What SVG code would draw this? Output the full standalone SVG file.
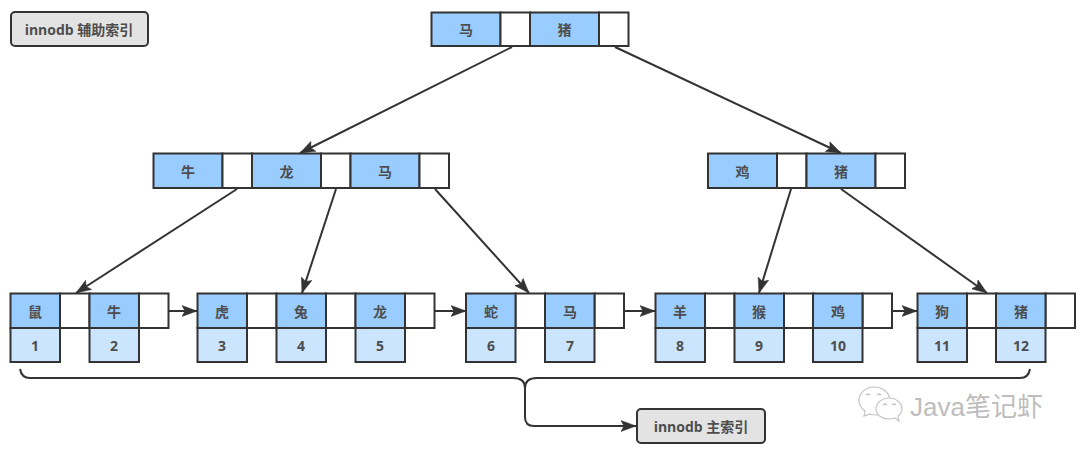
<svg xmlns="http://www.w3.org/2000/svg" width="1080" height="454" viewBox="0 0 1080 454">
<style>
text{font-family:"Open Sans","Noto Sans CJK SC",sans-serif;font-size:14px;font-weight:700;fill:#4d4d4d;text-anchor:middle;dominant-baseline:central}
.k{fill:#99ccff;stroke:#333;stroke-width:2}
.e{fill:#fff;stroke:#333;stroke-width:2}
.v{fill:#cce5ff;stroke:#333;stroke-width:2}
.l{fill:#e3e3e3;stroke:#333;stroke-width:2}
.c{fill:none;stroke:#333;stroke-width:2}
.a{marker-end:url(#arrow)}
.w{fill:#fff;stroke:#c4c4c4;stroke-width:1.200}
</style>
<defs>
<marker id="arrow" markerUnits="userSpaceOnUse" markerWidth="16" markerHeight="12" refX="15" refY="6" orient="auto"><path d="M0 0.5L15 6L0 11.500L3 6Z" fill="#333" stroke="#333" stroke-width="0.500"/></marker>
</defs>
<rect width="1080" height="454" fill="#fff"/>
<g id="connectors">
<path class="c a" d="M512 47L300 153"/>
<path class="c a" d="M615 47L841 153"/>
<path class="c a" d="M237 189L76 293"/>
<path class="c a" d="M336 189L302 293"/>
<path class="c a" d="M435 189L529 293"/>
<path class="c a" d="M791 189L759 293"/>
<path class="c a" d="M841 189L987 293"/>
<path class="c a" d="M169 311H197"/>
<path class="c a" d="M435 311H466"/>
<path class="c a" d="M624 311H655"/>
<path class="c a" d="M892 311H917"/>
<path class="c" d="M20 369C21 375 24 378 30 378H513C520 378 525 381 525 388C525 381 530 378 537 378H1020C1026 378 1029 375 1030 369"/>
<path class="c a" d="M525 386V417C525 423 528 426 534 426H636"/>
</g>
<g id="label-secondary"><rect class="l" x="11" y="12" width="137" height="34" rx="4"/><text x="79" y="29">innodb 辅助索引</text></g>
<g id="root"><rect class="k" x="431.500" y="12.500" width="69" height="33.500"/><rect class="e" x="500.500" y="12.500" width="29.500" height="33.500"/><rect class="k" x="530" y="12.500" width="69" height="33.500"/><rect class="e" x="599" y="12.500" width="29.500" height="33.500"/><text x="466" y="29">马</text><text x="564.500" y="29">猪</text></g>
<g id="mid-left"><rect class="k" x="153.500" y="153.500" width="69" height="34.500"/><rect class="e" x="222.500" y="153.500" width="29.500" height="34.500"/><rect class="k" x="252" y="153.500" width="69" height="34.500"/><rect class="e" x="321" y="153.500" width="29.500" height="34.500"/><rect class="k" x="350.500" y="153.500" width="69" height="34.500"/><rect class="e" x="419.500" y="153.500" width="29.500" height="34.500"/><text x="188" y="171">牛</text><text x="286.500" y="171">龙</text><text x="385" y="171">马</text></g>
<g id="mid-right"><rect class="k" x="708" y="153.500" width="69" height="34.500"/><rect class="e" x="777" y="153.500" width="29.500" height="34.500"/><rect class="k" x="806.500" y="153.500" width="69" height="34.500"/><rect class="e" x="875.500" y="153.500" width="29.500" height="34.500"/><text x="742.500" y="171">鸡</text><text x="841" y="171">猪</text></g>
<g id="leaf-1">
<rect class="e" x="60" y="293.500" width="29.500" height="34.500"/><rect class="k" x="10.500" y="293.500" width="49.500" height="34.500"/><rect class="v" x="10.500" y="328" width="49.500" height="34"/>
<rect class="e" x="139" y="293.500" width="29.500" height="34.500"/><rect class="k" x="89.500" y="293.500" width="49.500" height="34.500"/><rect class="v" x="89.500" y="328" width="49.500" height="34"/>
<text x="35" y="311">鼠</text><text x="35" y="345">1</text><text x="114" y="311">牛</text><text x="114" y="345">2</text></g>
<g id="leaf-2">
<rect class="e" x="247" y="293.500" width="29.500" height="34.500"/><rect class="k" x="197.500" y="293.500" width="49.500" height="34.500"/><rect class="v" x="197.500" y="328" width="49.500" height="34"/>
<rect class="e" x="326" y="293.500" width="29.500" height="34.500"/><rect class="k" x="276.500" y="293.500" width="49.500" height="34.500"/><rect class="v" x="276.500" y="328" width="49.500" height="34"/>
<rect class="e" x="405" y="293.500" width="29.500" height="34.500"/><rect class="k" x="355.500" y="293.500" width="49.500" height="34.500"/><rect class="v" x="355.500" y="328" width="49.500" height="34"/>
<text x="222" y="311">虎</text><text x="222" y="345">3</text><text x="301" y="311">兔</text><text x="301" y="345">4</text><text x="380" y="311">龙</text><text x="380" y="345">5</text></g>
<g id="leaf-3">
<rect class="e" x="515.500" y="293.500" width="29.500" height="34.500"/><rect class="k" x="466" y="293.500" width="49.500" height="34.500"/><rect class="v" x="466" y="328" width="49.500" height="34"/>
<rect class="e" x="594.500" y="293.500" width="29.500" height="34.500"/><rect class="k" x="545" y="293.500" width="49.500" height="34.500"/><rect class="v" x="545" y="328" width="49.500" height="34"/>
<text x="491" y="311">蛇</text><text x="491" y="345">6</text><text x="570" y="311">马</text><text x="570" y="345">7</text></g>
<g id="leaf-4">
<rect class="e" x="705" y="293.500" width="29.500" height="34.500"/><rect class="k" x="655.500" y="293.500" width="49.500" height="34.500"/><rect class="v" x="655.500" y="328" width="49.500" height="34"/>
<rect class="e" x="784" y="293.500" width="29.500" height="34.500"/><rect class="k" x="734.500" y="293.500" width="49.500" height="34.500"/><rect class="v" x="734.500" y="328" width="49.500" height="34"/>
<rect class="e" x="862.500" y="293.500" width="29.500" height="34.500"/><rect class="k" x="813" y="293.500" width="49.500" height="34.500"/><rect class="v" x="813" y="328" width="49.500" height="34"/>
<text x="680" y="311">羊</text><text x="680" y="345">8</text><text x="759" y="311">猴</text><text x="759" y="345">9</text><text x="838" y="311">鸡</text><text x="838" y="345">10</text></g>
<g id="leaf-5">
<rect class="e" x="967" y="293.500" width="29.500" height="34.500"/><rect class="k" x="917.500" y="293.500" width="49.500" height="34.500"/><rect class="v" x="917.500" y="328" width="49.500" height="34"/>
<rect class="e" x="1045.500" y="293.500" width="29.500" height="34.500"/><rect class="k" x="996" y="293.500" width="49.500" height="34.500"/><rect class="v" x="996" y="328" width="49.500" height="34"/>
<text x="942" y="311">狗</text><text x="942" y="345">11</text><text x="1021" y="311">猪</text><text x="1021" y="345">12</text></g>
<g id="label-primary"><rect class="l" x="637" y="409" width="128" height="34" rx="4"/><text x="701" y="426">innodb 主索引</text></g>
<g id="watermark">
<path class="w" d="M874 387C866 387 859 393 859 400C859 405 861 408 865 411L864 416L870 414C872 415 874 415 876 415C884 415 890 408 890 401C890 393 883 387 874 387Z"/>
<path class="w" d="M889 398C882 398 876 403 876 409C876 415 882 419 889 419C891 419 893 419 895 418L899 421L898 416C901 414 902 412 902 409C902 403 896 398 889 398Z"/>
<path class="w" d="M866 395Q868 393 870 395M877 395Q879 393 881 395M883 405Q885 403 887 405M892 405Q894 403 896 405" fill="none"/>
<text x="910" y="407" style="font-family:'Liberation Sans','Noto Sans CJK SC',sans-serif;font-size:26px;font-weight:400;fill:#bdbdbd;text-anchor:start">Java笔记虾</text>
</g>
</svg>
